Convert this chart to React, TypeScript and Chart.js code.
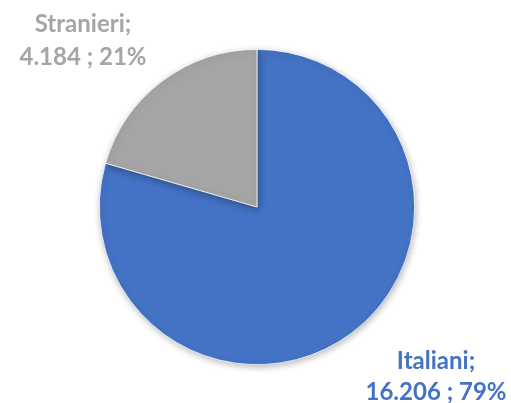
import React, { useEffect, useRef } from "react";
import { Chart, registerables } from "chart.js";

Chart.register(...registerables);

const categories = ["Italiani", "Stranieri"];
const values = [16206, 4184];
const colors = ["#4472C4", "#A5A5A5"];

const fmt = (n: number) => String(n).replace(/\B(?=(\d{3})+(?!\d))/g, ".");

const labelPlugin = {
  id: "excelLabels",
  beforeDatasetsDraw(chart: any) {
    const ctx = chart.ctx;
    ctx.save();
    ctx.shadowColor = "rgba(0,0,0,0.28)";
    ctx.shadowBlur = 7;
    ctx.shadowOffsetX = 1;
    ctx.shadowOffsetY = 2;
  },
  afterDatasetsDraw(chart: any) {
    const ctx = chart.ctx;
    ctx.restore();
    const total = values.reduce((a, b) => a + b, 0);
    const pos: Record<string, [number, number, number]> = {
      Italiani: [436, 369, 400],
      Stranieri: [83, 32, 65],
    };
    ctx.save();
    ctx.font = "bold 24px Lato";
    ctx.textAlign = "center";
    ctx.textBaseline = "alphabetic";
    categories.forEach((c, i) => {
      const [x, y1, y2] = pos[c];
      ctx.fillStyle = colors[i];
      ctx.fillText(c + ";", x, y1);
      ctx.fillText(fmt(values[i]) + " ; " + Math.round((values[i] / total) * 100) + "%", x, y2);
    });
    ctx.restore();
  },
};

export default function App() {
  const ref = useRef<HTMLCanvasElement>(null);
  useEffect(() => {
    const chart = new Chart(ref.current!, {
      type: "pie",
      data: {
        labels: categories,
        datasets: [
          {
            data: values,
            backgroundColor: colors,
            borderColor: "#ffffff",
            borderWidth: 0.75,
          },
        ],
      },
      options: {
        animation: false,
        responsive: false,
        layout: { padding: { left: 99, right: 96, top: 49, bottom: 38 } },
        plugins: { legend: { display: false }, tooltip: { enabled: false } },
      },
      plugins: [labelPlugin],
    });
    return () => chart.destroy();
  }, []);
  return (
    <div style={{ position: "fixed", left: 0, top: 0, width: 511, height: 403, background: "#fff" }}>
      <canvas ref={ref} width={511} height={403} />
    </div>
  );
}
